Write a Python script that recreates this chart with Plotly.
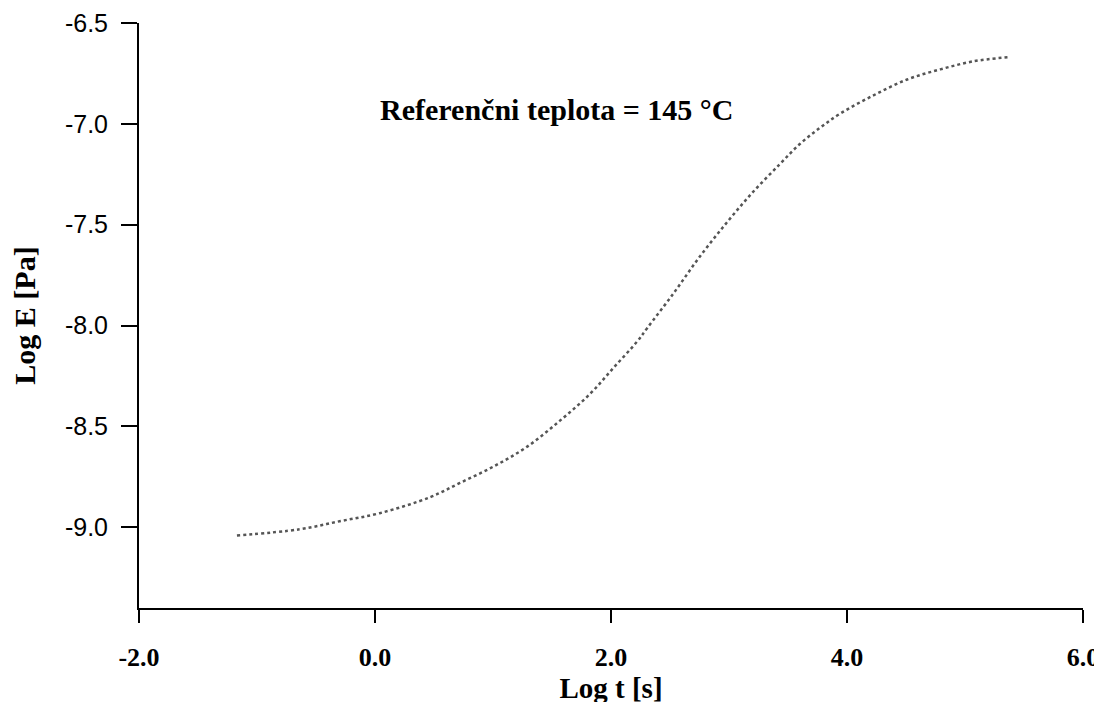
import plotly.graph_objects as go

log_t = [-1.17, -0.64, -0.30, 0.04, 0.47, 0.72, 1.00, 1.29, 1.57, 1.82, 2.02, 2.22, 2.31,
         2.53, 2.75, 2.98, 3.20, 3.43, 3.60, 3.77, 3.94, 4.22, 4.51, 4.79, 5.07, 5.36]
log_e = [-9.04, -9.01, -8.97, -8.93, -8.85, -8.78, -8.70, -8.60, -8.47, -8.34, -8.21, -8.08, -8.01,
         -7.84, -7.66, -7.49, -7.34, -7.20, -7.10, -7.02, -6.95, -6.86, -6.78, -6.73, -6.69, -6.67]

x_ticks = [-2.0, 0.0, 2.0, 4.0, 6.0]
y_ticks = [-9.0, -8.5, -8.0, -7.5, -7.0, -6.5]

serif = "Liberation Serif, Times New Roman, serif"
sans = "Liberation Sans, Arial, sans-serif"

fig = go.Figure()
fig.add_trace(go.Scatter(
    x=log_t, y=log_e, mode="lines", line_shape="spline",
    line=dict(color="#555555", width=2.5, dash="dot", smoothing=1.0),
    showlegend=False, hoverinfo="skip"))

fig.add_annotation(
    x=1.54, y=-6.93, xref="x", yref="y", showarrow=False,
    text="<b>Referenčni teplota = 145 °C</b>",
    font=dict(family=serif, size=30, color="black"))

fig.update_layout(
    width=1102, height=702,
    margin=dict(l=131, r=27, t=15, b=102),
    paper_bgcolor="white", plot_bgcolor="white",
    xaxis=dict(
        range=[-2.0, 6.0], tickvals=x_ticks, ticktext=[f"{v:.1f}" for v in x_ticks],
        automargin=False,
        showgrid=False, zeroline=False, showline=True, linecolor="black", linewidth=2,
        ticks="outside", ticklen=13, tickwidth=2, tickcolor="black",
        tickfont=dict(family=serif, size=26, color="black", weight="bold"),
        ticklabelstandoff=12,
        title=dict(text="<b>Log t [s]</b>", font=dict(family=serif, size=29, color="black"),
                   standoff=1),
    ),
    yaxis=dict(
        range=[-9.40, -6.5], tickvals=y_ticks, ticktext=[f"{v:.1f}" for v in y_ticks],
        automargin=False,
        showgrid=False, zeroline=False, showline=True, linecolor="black", linewidth=2,
        ticks="outside", ticklen=16, tickwidth=2, tickcolor="black",
        tickfont=dict(family=sans, size=25, color="black"),
        ticklabelstandoff=8,
        title=dict(text="<b>Log E [Pa]</b>", font=dict(family=serif, size=30, color="black"),
                   standoff=20),
    ),
)

fig.write_html("out.html")
